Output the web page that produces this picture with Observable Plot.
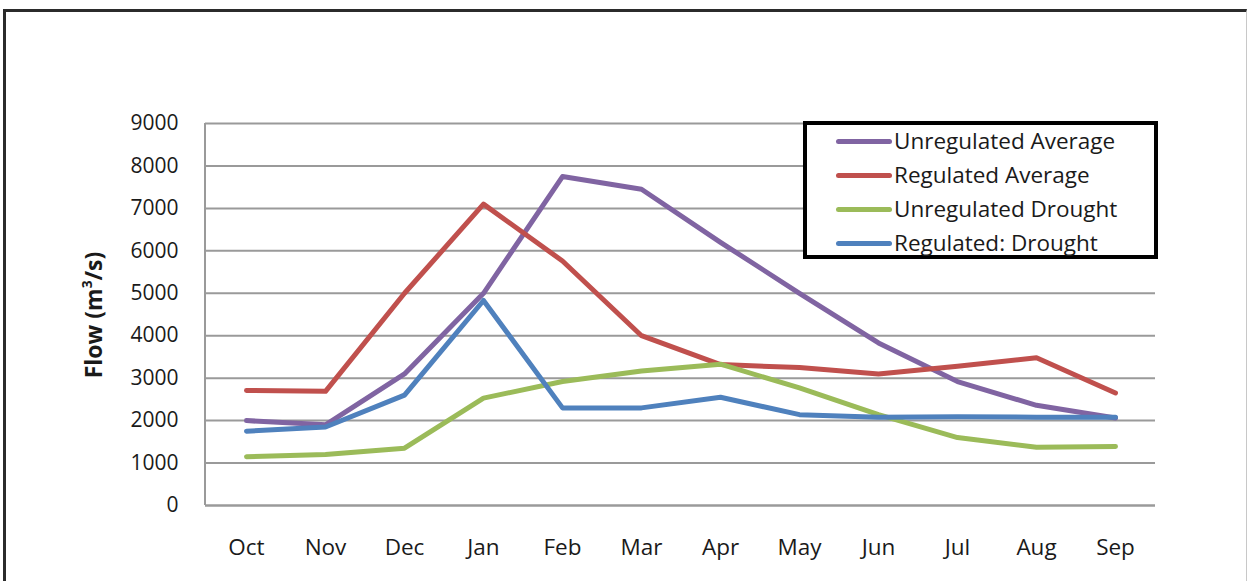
<!DOCTYPE html>
<html>
<head>
<meta charset="utf-8">
<script src="https://cdn.jsdelivr.net/npm/d3@7"></script>
<script src="https://cdn.jsdelivr.net/npm/@observablehq/plot@0.6"></script>
<style>
  html, body { margin: 0; padding: 0; background: #fff; }
  body { width: 1249px; height: 581px; position: relative; overflow: hidden; font-family: "Open Sans", sans-serif; }
  #frame { position: absolute; left: 3px; top: 9px; width: 1244px; height: 600px;
           border-left: 3px solid #2b2b2b; border-top: 3px solid #2b2b2b; border-right: 1px solid #c8c8c8; box-sizing: border-box; }
  #chart { position: absolute; left: 0; top: 0; }
  #legend { position: absolute; left: 803px; top: 121px; width: 355px; height: 138px;
            border: 4px solid #000; box-sizing: border-box; background: #fff; padding-top: 0px; }
  .row { position: relative; height: 34px; font-size: 22.5px; line-height: 34px; color: #1a1a1a; white-space: nowrap; }
  .sw { position: absolute; left: 29px; top: 14px; width: 56px; height: 5px; border-radius: 3px; }
  .lab { position: absolute; left: 87px; top: -1px; }
  #ylabel { position: absolute; left: 93px; top: 315px; transform: translate(-50%, -50%) rotate(-90deg);
            font-size: 23px; font-weight: bold; color: #1a1a1a; white-space: nowrap; }
</style>
</head>
<body>
<div id="frame"></div>
<div id="chart"></div>
<div id="ylabel">Flow (m<sup style="font-size:0.6em;vertical-align:0.7em;line-height:0">3</sup>/s)</div>
<div id="legend"></div>
<script>
const months = ["Oct","Nov","Dec","Jan","Feb","Mar","Apr","May","Jun","Jul","Aug","Sep"];
const seriesNames = ["Unregulated Average","Regulated Average","Unregulated Drought","Regulated: Drought"];
const seriesColors = ["#8064A2","#C0504D","#9BBB59","#4F81BD"];
const unregulatedAverage = [2000,1900,3100,5000,7750,7450,6200,5000,3830,2920,2360,2060];
const regulatedAverage   = [2710,2690,5000,7100,5760,4000,3320,3250,3100,3280,3480,2650];
const unregulatedDrought = [1150,1200,1350,2530,2920,3170,3330,2770,2140,1600,1370,1390];
const regulatedDrought   = [1750,1850,2600,4830,2300,2300,2550,2140,2080,2090,2080,2080];
const yTicks = [0,1000,2000,3000,4000,5000,6000,7000,8000,9000];

const seriesValues = [unregulatedAverage, regulatedAverage, unregulatedDrought, regulatedDrought];
const data = [];
seriesNames.forEach((name, i) => {
  months.forEach((m, j) => data.push({series: name, month: m, value: seriesValues[i][j]}));
});

const W = 1249, H = 581;
const plot = Plot.plot({
  width: W,
  height: H,
  marginLeft: 205,
  marginRight: 94,
  marginTop: 123,
  marginBottom: 76,
  style: {fontFamily: "Open Sans, sans-serif", fontSize: "21px", color: "#1a1a1a", background: "transparent"},
  x: {type: "point", domain: months, padding: 0.5, label: null},
  y: {domain: [0, 9000], label: null},
  color: {domain: seriesNames, range: seriesColors},
  marks: [
    Plot.gridY(yTicks, {stroke: "#9a9a9a", strokeOpacity: 1, strokeWidth: 2}),
    Plot.ruleY([0], {stroke: "#9a9a9a", strokeWidth: 2}),
    (index, scales, values, dims) => {
      const g = d3.create("svg:line")
        .attr("x1", dims.marginLeft).attr("x2", dims.marginLeft)
        .attr("y1", dims.marginTop).attr("y2", dims.height - dims.marginBottom)
        .attr("stroke", "#9a9a9a").attr("stroke-width", 2);
      return g.node();
    },
    Plot.axisY(yTicks, {tickSize: 0, tickPadding: 27, tickFormat: d => String(d), fontSize: 21, label: null}),
    Plot.axisX(months, {tickSize: 0, tickPadding: 34, fontSize: 22.5, label: null}),
    Plot.line(data, {x: "month", y: "value", z: "series", stroke: "series", strokeWidth: 5, strokeLinejoin: "round", strokeLinecap: "round"})
  ]
});
document.getElementById("chart").appendChild(plot);

const legend = document.getElementById("legend");
seriesNames.forEach((name, i) => {
  const row = document.createElement("div");
  row.className = "row";
  const sw = document.createElement("div");
  sw.className = "sw";
  sw.style.background = seriesColors[i];
  const lab = document.createElement("div");
  lab.className = "lab";
  lab.textContent = name;
  row.appendChild(sw);
  row.appendChild(lab);
  legend.appendChild(row);
});
</script>
</body>
</html>
